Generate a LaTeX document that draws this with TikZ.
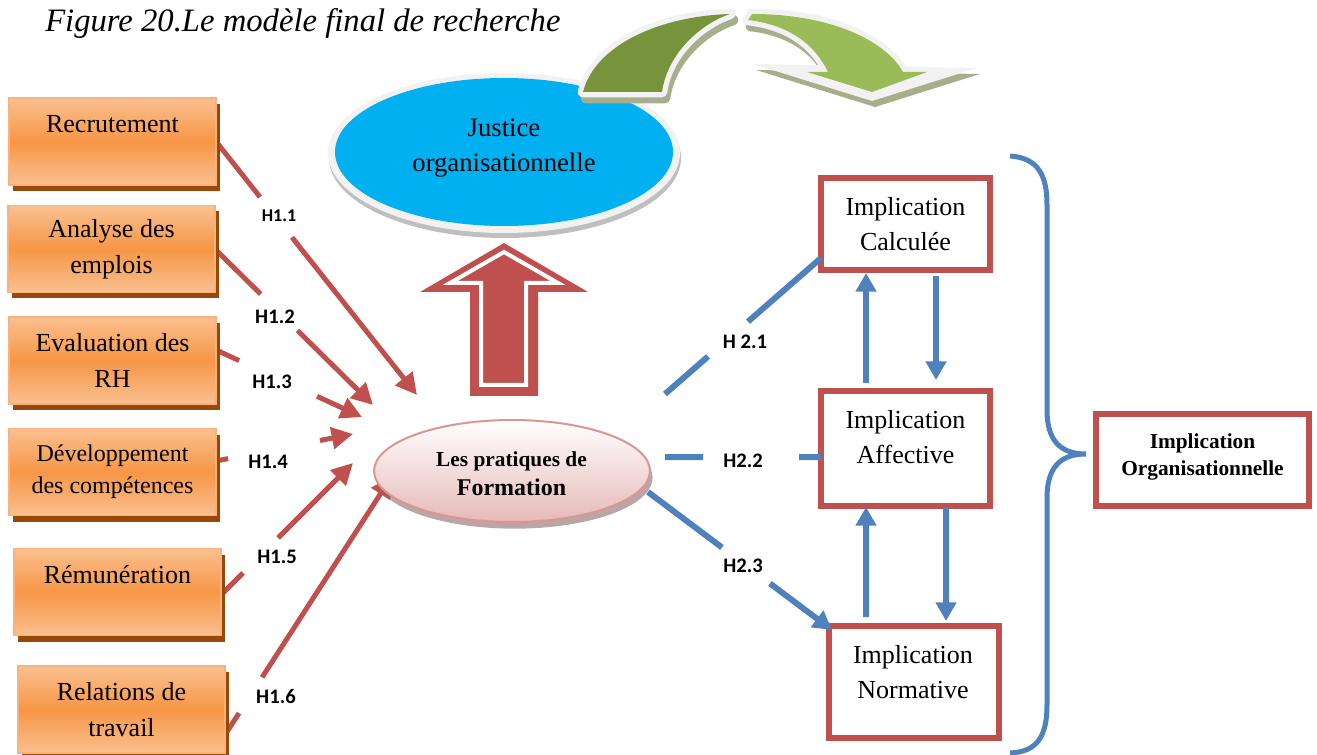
\documentclass[tikz,border=0pt]{standalone}
\usepackage{fontspec}
\setmainfont{Liberation Serif}
\newfontfamily\labfont{Carlito}
\usetikzlibrary{arrows.meta,shapes.geometric,shadows,calc}
\pgfdeclarelayer{bg}
\pgfsetlayers{bg,main}
\definecolor{redc}{HTML}{C0504D}
\definecolor{bluec}{HTML}{4F81BD}
\definecolor{omid}{HTML}{F79646}
\definecolor{olight}{HTML}{FAC090}
\definecolor{oborder}{HTML}{F9B27F}
\definecolor{oshadow}{HTML}{984807}
\definecolor{jblue}{HTML}{00B0F0}
\definecolor{jrim}{HTML}{F2F2F2}
\definecolor{jshadow}{HTML}{BFBFBF}
\definecolor{gdark}{HTML}{77933C}
\definecolor{glight}{HTML}{9BBB59}
\definecolor{gout}{HTML}{F2F2F2}
\definecolor{gshadow}{HTML}{A6AE8C}
\definecolor{pinkb}{HTML}{D99694}
\definecolor{pinkf}{HTML}{E6B9B8}
\definecolor{pinksh}{HTML}{8C6B6B}
\begin{document}
\begin{tikzpicture}[x=0.75pt,y=-0.75pt,
  obox/.style={rectangle, draw=oborder, line width=1.2pt, top color=olight, bottom color=olight, middle color=omid,
    minimum width=155.25pt, minimum height=65.25pt, inner sep=0pt, outer sep=0pt, align=center,
    font=\fontsize{19.5}{27}\selectfont,
    drop shadow={opacity=1, fill=oshadow, shadow xshift=3pt, shadow yshift=-4.5pt}},
  rbox/.style={rectangle, draw=redc, line width=4.5pt, fill=white, inner sep=0pt, outer sep=0pt},
  rtext/.style={align=center, inner sep=0pt, font=\fontsize{19.5}{26.25}\selectfont},
  redln/.style={draw=redc, line width=3.75pt},
  redar/.style={redln, -{Triangle[width=16pt,length=16pt]}},
  blueln/.style={draw=bluec, line width=4.5pt},
  bluear/.style={blueln, -{Triangle[width=15pt,length=14pt]}},
  hlab/.style={inner sep=0pt, font=\labfont\bfseries\fontsize{15.5}{18}\selectfont},
  hlabs/.style={inner sep=0pt, font=\labfont\bfseries\fontsize{13.5}{16}\selectfont},
  gline/.style={line width=8pt, line join=round}
]
\useasboundingbox (0,0) rectangle (1317,755);

% title
\node[anchor=base west, inner sep=0pt, font=\itshape\fontsize{24.5}{28}\selectfont] (title) at (45,32) {Figure 20.Le modèle final de recherche};

% left boxes
\node[obox] (b1) at (112.5,141.5) {Recrutement\\\mbox{}};
\node[obox] (b2) at (111.5,249) {Analyse des\\emplois};
\node[obox] (b3) at (112.5,360.5) {Evaluation des\\RH};
\node[obox, font=\fontsize{18}{24}\selectfont] (b4) at (112.5,472) {Développement\\des compétences};
\node[obox] (b5) at (117.5,592) {Rémunération\\\mbox{}};
\node[obox] (b6) at (121.5,709.5) {Relations de\\travail};

% red connectors (behind)
\begin{pgfonlayer}{bg}
\path ([yshift=0pt]b1.east) coordinate (s1) (417,395) coordinate (t1);
\draw[redln] (s1) -- ($(s1)!0.219!(t1)$);
\draw[redar] ($(s1)!0.378!(t1)$) -- (t1);
\path (b2.east) coordinate (s2) (373,405) coordinate (t2);
\draw[redln] (s2) -- ($(s2)!0.289!(t2)$);
\draw[redar] ($(s2)!0.522!(t2)$) -- (t2);
\path ([yshift=7.9pt]b3.east) coordinate (s3) (362,417) coordinate (t3);
\draw[redln] (s3) -- ($(s3)!0.158!(t3)$);
\draw[redar] ($(s3)!0.692!(t3)$) -- (t3);
\path ([yshift=8.25pt]b4.east) coordinate (s4) (353,434) coordinate (t4);
\draw[redln] (s4) -- ($(s4)!0.088!(t4)$);
\draw[redar] ($(s4)!0.759!(t4)$) -- (t4);
\path ([yshift=-2.25pt]b5.east) coordinate (s5) (353,463) coordinate (t5);
\draw[redln] (s5) -- ($(s5)!0.167!(t5)$);
\draw[redar] ($(s5)!0.432!(t5)$) -- (t5);
\path ([yshift=-19pt]b6.east) coordinate (s6) (392,476) coordinate (t6);
\draw[redln] (s6) -- ($(s6)!0.084!(t6)$);
\draw[redar] ($(s6)!0.222!(t6)$) -- (t6);
\end{pgfonlayer}

% H1 labels
\node[hlabs] (h11) at (279,216) {H1.1};
\node[hlab] (h12) at (275,317) {H1.2};
\node[hlab] (h13) at (272,382) {H1.3};
\node[hlab] (h14) at (268,462) {H1.4};
\node[hlab] (h15) at (277,557) {H1.5};
\node[hlab] (h16) at (276,697) {H1.6};

% Justice organisationnelle
\fill[jshadow] (505,158) ellipse [x radius=132pt, y radius=60pt];
\fill[jrim] (504,153) ellipse [x radius=132pt, y radius=60pt];
\node[ellipse, fill=jblue, minimum width=253.5pt, minimum height=111pt, inner sep=0pt] (just) at (504,152) {};
\node[align=center, inner sep=0pt, font=\fontsize{20}{26.25}\selectfont] (justT) at (504,148.5) {Justice\\organisationnelle};

% green curved arrow
\def\darkpart{(583,92) .. controls (595,45) and (660,16) .. (730,14) .. controls (705,22) and (668,50) .. (662,92) -- cycle}
\def\lightpart{(752,14) .. controls (830,14) and (885,40) .. (903,72) -- (927,72) -- (872,92) -- (807,72) -- (828,72) .. controls (815,45) and (790,25) .. (748,20) -- cycle}
\def\headout{(753,64) -- (977,68) -- (872,101) -- cycle}
\begin{scope}[shift={(3,6)}]
\filldraw[gshadow, gline] \darkpart;
\filldraw[gshadow, gline] \lightpart;
\fill[gshadow] \headout;
\end{scope}
\filldraw[gout, gline] \darkpart;
\filldraw[gout, gline] \lightpart;
\fill[gout] \headout;
\fill[gdark] \darkpart;
\fill[glight] \lightpart;

% big hollow up arrow
\fill[redc] (504,243) -- (588,292) -- (538,292) -- (538,396) -- (470,396) -- (470,292) -- (420,292) -- cycle;
\draw[white, line width=3pt] (504,252) -- (558,283) -- (526,283) -- (526,385) -- (481,385) -- (481,283) -- (450,283) -- cycle;

% central ellipse
\node[ellipse, draw=pinkb, line width=1.5pt, top color=white, bottom color=pinkf, minimum width=207pt, minimum height=76.5pt, inner sep=0pt,
  drop shadow={opacity=0.6, fill=pinksh, shadow xshift=2pt, shadow yshift=-5pt}] (form) at (512,471) {};
\node[align=center, inner sep=0pt, font=\bfseries\fontsize{16}{21.75}\selectfont] (formT) at (511.5,474) {Les pratiques de\\{\fontsize{18}{21.75}\selectfont Formation}};

% right boxes
\node[rbox, minimum width=126.75pt, minimum height=69pt] (cal) at (905.5,224) {};
\node[rtext] (calT) at (905.5,224) {Implication\\Calculée};
\node[rbox, minimum width=126.75pt, minimum height=86.25pt] (aff) at (905.5,448.5) {};
\node[rtext] (affT) at (905.5,437.5) {Implication\\Affective};
\node[rbox, minimum width=127.5pt, minimum height=84pt] (norm) at (914,682) {};
\node[rtext] (normT) at (913,672.5) {Implication\\Normative};
\node[rbox, minimum width=159.75pt, minimum height=69pt] (org) at (1202.5,460) {};
\node[align=center, inner sep=0pt, font=\bfseries\fontsize{16}{20.25}\selectfont] (orgT) at (1202.5,456.5) {Implication\\Organisationnelle};

% blue connectors
\coordinate (e21) at (665,394);
\path ([yshift=9pt]cal.south west) coordinate (c21);
\draw[blueln] (e21) -- ($(e21)!0.276!(c21)$);
\draw[blueln] ($(e21)!0.532!(c21)$) -- (c21);
\coordinate (e22) at (665,457);
\path ([yshift=-6.4pt]aff.west) coordinate (c22);
\draw[blueln] (e22) -- ($(e22)!0.244!(c22)$);
\draw[blueln] ($(e22)!0.859!(c22)$) -- (c22);
\coordinate (e23) at (648,492);
\path ([xshift=2.25pt,yshift=-3pt]norm.north west) coordinate (c23);
\draw[blueln] (e23) -- ($(e23)!0.402!(c23)$);
\draw[bluear] ($(e23)!0.663!(c23)$) -- (c23);

\node[hlab] (h21) at (745,342) {H 2.1};
\node[hlab] (h22) at (743,461) {H2.2};
\node[hlab] (h23) at (743,566) {H2.3};

% vertical arrows
\draw[bluear] ([xshift=-29.6pt,yshift=6pt]aff.north) -- ([xshift=-29.6pt,yshift=-2.25pt]cal.south);
\draw[bluear] ([xshift=22.9pt,yshift=-4.5pt]cal.south) -- ([xshift=22.9pt,yshift=8.25pt]aff.north);
\draw[bluear] ([xshift=-36pt,yshift=6.75pt]norm.north) -- ([xshift=-29.6pt,yshift=-0.75pt]aff.south);
\draw[bluear] ([xshift=30.4pt,yshift=-0.75pt]aff.south) -- ([xshift=24pt,yshift=3.75pt]norm.north);

% brace
\draw[bluec, line width=3.75pt] (1010,156) .. controls (1038,158) and (1047,175) .. (1047,205) -- (1047,410) .. controls (1047,438) and (1058,454) .. (1086,454) .. controls (1058,454) and (1047,470) .. (1047,498) -- (1047,705) .. controls (1047,735) and (1038,752) .. (1010,753);
\end{tikzpicture}
\end{document}
